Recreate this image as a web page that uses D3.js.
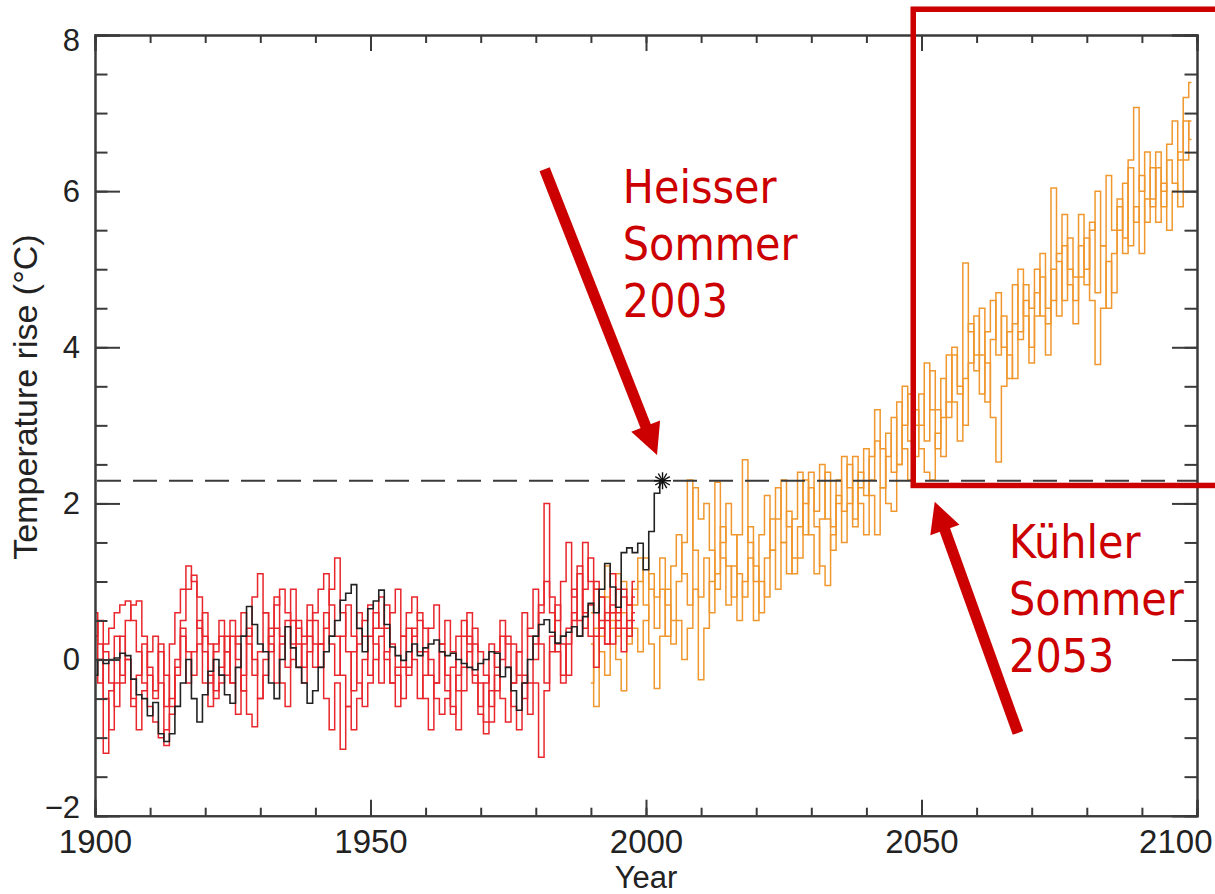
<!DOCTYPE html>
<html>
<head>
<meta charset="utf-8">
<script src="https://cdn.jsdelivr.net/npm/d3@7/dist/d3.min.js"></script>
<style>
  html, body { margin: 0; padding: 0; background: #fff; }
  svg { display: block; }
</style>
</head>
<body>
<svg id="chart" width="1215" height="894"></svg>
<script>
// ---------------- DATA ----------------
const xTickMajor = [1900, 1950, 2000, 2050, 2100];
const yTickMajor = [-2, 0, 2, 4, 6, 8];
const xLabel = "Year";
const yLabel = "Temperature rise (°C)";

// Observations (black), annual values from 1900
const obsStart = 1900;
const observed = [
  -0.2, 0.0, -0.05, 0.0, 0.02, 0.08, 0.05, -0.25, -0.45, -0.5,
  -0.72, -0.55, -0.95, -1.05, -0.95, -0.6, -0.3, 0.0, -0.5, -0.8,
  -0.45, -0.15, 0.0, -0.2, -0.45, -0.56, -0.1, 0.3, 0.68, 0.45,
  0.2, 0.1, -0.3, -0.5, 0.0, 0.42, 0.15, -0.1, -0.3, -0.56,
  -0.4, -0.1, 0.1, 0.3, 0.5, 0.76, 0.85, 0.96, 0.4, 0.1,
  0.65, 0.75, 0.89, 0.45, 0.16, 0.05, -0.01, 0.1, 0.2, 0.05,
  0.15, 0.2, 0.25, 0.1, 0.05, 0.08, 0.0, -0.05, -0.1, -0.13,
  -0.05, 0.0, 0.1, 0.08, -0.22, -0.1, -0.4, -0.65, -0.3, 0.0,
  0.3, 0.45, 0.51, 0.35, 0.21, 0.3, 0.35, 0.42, 0.3, 0.55,
  0.72, 0.6, 0.9, 1.23, 0.93, 0.67, 1.37, 1.43, 1.37, 1.49,
  1.15, 1.64, 2.13, 2.29
];

// Model runs, historical (red), annual from 1900
const histStart = 1900;
const hist1 = [
  0.6, 0.2, -1.2, -0.4, 0.3, -0.2, 0.5, 0.7, 0.75, 0.3,
  -0.2, -0.5, 0.1, -0.6, 0.2, 0.6, 0.9, 1.2, 1.0, 0.4,
  -0.3, -0.6, 0.1, 0.3, -0.2, 0.5, 0.2, -0.4, 0.3, 0.8,
  1.1, 0.6, 0.1, 0.4, -0.3, -0.6, 0.0, 0.5, 0.3, 0.7,
  0.2, -0.1, 0.4, 0.9, 1.3, 0.6, 0.1, -0.4, 0.2, 0.5,
  0.7, 0.2, -0.3, 0.1, 0.6, 0.9, 0.3, -0.2, 0.4, 0.1,
  -0.5, -0.9, -0.3, 0.2, 0.5, 0.1, -0.4, -0.1, 0.3, -0.2,
  -0.6, -0.3, 0.2, -0.1, -0.5, -0.8, -0.3, 0.1, 0.6, 0.3,
  0.0, 0.6, 2.0, 0.8, 0.2, -0.3, 0.4, 0.9, 0.5, 1.5,
  1.0, 0.3, 0.8, 0.5, 1.1, 0.6, 0.9, 0.7, 1.0
];
const hist2 = [
  0.3, 0.5, 0.1, -0.3, -0.6, -0.3, 0.0, -0.5, -0.9, -0.4,
  0.1, 0.3, -0.3, -1.1, -0.7, -0.2, 0.4, 0.1, -0.2, 0.2,
  0.6, 0.2, -0.4, -0.1, 0.3, -0.3, -0.7, -0.2, 0.4, 0.0,
  -0.5, -0.2, 0.3, 0.8, 0.3, -0.1, 0.5, 0.2, -0.3, 0.1,
  0.5, 0.2, -0.5, -0.9, -0.3, -1.15, -0.6, 0.1, 0.6, 0.3,
  -0.2, 0.4, 0.8, 0.4, -0.3, -0.6, -0.1, 0.4, 0.0, -0.5,
  -0.2, 0.4, 0.7, 0.2, -0.4, -0.7, -0.2, 0.3, 0.6, 0.2,
  -0.3, -0.8, -0.4, 0.1, 0.5, 0.2, -0.3, 0.1, -0.2, -0.7,
  -0.3, -1.25, -0.4, 0.3, 0.7, 0.2, -0.2, 0.5, 1.1, 0.6,
  0.3, -0.1, 0.4, 0.2, 0.7, 0.4, 0.1, 0.5, 0.8
];
const hist3 = [
  0.0, -0.3, 0.2, 0.4, 0.6, 0.7, 0.75, 0.5, 0.1, -0.3,
  -0.6, -0.8, -1.0, -0.9, -0.5, 0.0, 0.5, 0.9, 1.08, 0.8,
  0.3, -0.2, -0.5, -0.3, 0.1, 0.3, 0.0, -0.4, -0.7, -0.86,
  -0.5, 0.0, 0.4, 0.7, 0.9, 0.6, 0.2, -0.1, 0.2, 0.5,
  0.6, 0.9, 1.1, 0.7, 0.3, -0.2, -0.6, -0.9, -0.5, 0.0,
  0.3, 0.6, 0.4, 0.0, -0.3, -0.1, 0.3, 0.6, 0.8, 0.5,
  0.1, -0.2, -0.5, -0.7, -0.5, -0.1, 0.3, 0.5, 0.2, -0.3,
  -0.7, -0.95, -0.8, -0.4, 0.0, 0.3, 0.2, -0.2, -0.5, -0.3,
  0.2, 0.7, 1.0, 0.6, 0.1, -0.2, 0.2, 0.6, 0.3, 0.9,
  1.3, 0.9, 0.4, 0.6, 0.2, 0.5, 0.8, 0.4, 0.6
];
const hist4 = [
  0.5, 0.0, -0.5, -0.9, -0.3, 0.3, 0.0, -0.6, -0.2, 0.2,
  -0.1, -0.4, 0.2, -0.2, -0.6, -0.1, 0.3, -0.3, 0.1, 0.5,
  0.1, -0.3, 0.2, 0.5, 0.1, -0.3, 0.3, 0.6, 0.2, -0.2,
  0.1, 0.6, 0.2, -0.3, 0.2, 0.5, 0.9, 0.4, -0.1, 0.3,
  -0.1, 0.2, 0.6, 0.2, -0.2, 0.3, 0.7, 0.3, -0.3, -0.6,
  -0.3, 0.0, 0.3, 0.7, 0.2, -0.2, -0.5, -0.1, 0.3, 0.6,
  0.4, 0.0, -0.3, 0.1, -0.2, -0.6, -0.9, -0.4, 0.1, 0.4,
  0.1, -0.2, -0.6, -0.2, 0.3, -0.1, -0.6, -0.9, -0.3, 0.4,
  0.9, 0.2, -0.3, 0.1, 0.5, 1.0, 1.5, 0.8, 1.2, 0.4,
  0.7, 1.0, 0.5, 0.2, 0.6, 0.9, 0.4, 0.3, 0.5
];

// Model runs, scenario (orange), annual from 1990
const projStart = 1990;
const proj1 = [
  0.2, -0.6, 0.3, 0.8, 0.4, 1.1, 0.6, 0.2, 0.9, 1.3,
  0.7, 0.2, -0.37, 0.3, 0.9, 0.5, 1.0, 1.5, 2.3, 1.4,
  0.8, 1.3, 0.6, 1.1, 1.7, 1.2, 0.8, 1.6, 2.56, 1.5,
  1.0, 1.6, 2.1, 1.4, 0.9, 1.5, 1.9, 1.3, 1.7, 2.3,
  1.6, 1.1, 1.8, 2.4, 1.7, 2.1, 1.5, 2.0, 2.6, 2.0,
  1.6, 2.3, 2.8, 2.2, 2.6, 3.1, 2.5, 3.5, 2.8, 3.2,
  2.7, 2.4, 2.3, 2.9, 3.6, 3.1, 3.9, 3.4, 5.08, 4.2,
  3.7, 4.5, 3.8, 3.1, 2.53, 3.5, 4.2, 4.8, 4.1, 4.6,
  4.0, 4.7, 5.2, 4.5, 6.04, 5.1, 4.6, 5.4, 4.9, 5.7,
  5.0, 5.6, 4.7, 5.3, 6.2, 5.5, 5.9, 5.2, 6.4, 7.07,
  6.0, 6.5, 5.8, 6.3, 6.0, 6.6, 6.9, 6.4, 7.2, 7.39
];
const proj2 = [
  0.6, 0.9, 0.1, -0.2, 0.5, 0.3, 1.0, 0.7, 0.4, 0.1,
  0.5, 1.1, 0.8, 1.3, 0.7, 0.2, 0.5, 0.0, 0.4, 0.9,
  -0.26, 0.4, 1.0, 2.27, 1.3, 0.7, 1.2, 0.5, 1.0, 1.7,
  1.2, 0.6, 1.3, 1.8, 2.2, 1.5, 1.1, 1.8, 2.4, 1.6,
  2.2, 1.7, 1.2, 0.95, 1.6, 2.3, 1.9, 2.5, 1.8, 2.2,
  2.7, 2.1, 1.6, 2.2, 2.9, 2.4, 3.3, 2.7, 2.3, 3.0,
  3.4, 2.8, 3.7, 3.2, 2.6, 3.3, 4.0, 3.5, 3.0, 3.8,
  4.4, 3.9, 3.3, 4.1, 4.7, 4.0, 3.6, 4.3, 5.0, 4.4,
  3.8, 4.4, 4.9, 4.3, 5.0, 4.4, 5.3, 4.8, 4.3, 4.9,
  5.4, 4.6, 3.78, 4.5, 5.1, 4.7, 5.5, 6.1, 5.3, 5.8,
  5.2, 5.9, 6.3, 5.6, 6.1, 5.5, 6.0, 6.5, 6.9, 6.66
];
const proj3 = [
  -0.3, 0.4, 0.8, 1.2, 0.6, 0.0, -0.4, 0.3, 0.7, 1.0,
  1.3, 0.9, 0.4, 0.9, 0.3, 1.2, 1.6, 1.1, 0.7, 2.2,
  1.8, 2.0, 1.4, 0.9, 1.5, 2.0, 1.6, 1.1, 0.8, 1.3,
  0.5, 1.0, 0.8, 1.4, 1.8, 2.3, 1.7, 1.1, 1.3, 2.0,
  2.4, 1.9, 2.5, 1.8, 1.4, 2.0, 2.6, 2.2, 1.7, 2.4,
  2.1, 2.6, 3.2, 2.7, 2.0, 1.9, 2.5, 3.0, 3.4, 2.6,
  3.0, 3.8, 3.2, 2.7, 3.1, 3.9, 3.3, 2.8, 3.6, 4.3,
  3.9, 3.4, 4.2, 4.6, 3.9, 4.4, 3.9, 3.6, 4.2, 4.8,
  4.5, 5.0, 4.4, 3.9, 4.6, 5.2, 5.7, 5.0, 4.6, 5.3,
  4.8, 5.5, 6.0, 5.3, 4.5, 5.2, 5.8, 5.4, 6.3, 5.6,
  6.2, 5.6, 5.9, 6.5, 5.8, 6.4, 6.1, 5.8, 6.4, 6.9
];

// 2003 reference level (dashed) and marker
const hotYear = 2003;
const hotLevel = 2.29;

// Annotations
const hotText = ["Heisser", "Sommer", "2003"];
const coolText = ["Kühler", "Sommer", "2053"];

// ---------------- CHART ----------------
const svg = d3.select("#chart");
const W = 1215, H = 894;
svg.append("rect").attr("width", W).attr("height", H).attr("fill", "#fff");

const x = d3.scaleLinear().domain([1900, 2100]).range([95, 1197]);
const y = d3.scaleLinear().domain([-2, 8]).range([815.7, 35]);

const axisColor = "#3a3a3a";
const tickFont = "'Liberation Sans', Arial, sans-serif";

const toPts = (arr, start) => arr.map((v, i) => [start + i, v]);
const line = d3.line().x(d => x(d[0])).y(d => y(d[1])).curve(d3.curveStep);

const plot = svg.append("g");

// orange projections
[proj1, proj2, proj3].forEach(s => {
  plot.append("path").attr("d", line(toPts(s, projStart)))
    .attr("fill", "none").attr("stroke", "#f0982f").attr("stroke-width", 1.5);
});
// red historical runs
[hist1, hist2, hist3, hist4].forEach(s => {
  plot.append("path").attr("d", line(toPts(s, histStart)))
    .attr("fill", "none").attr("stroke", "#e8262c").attr("stroke-width", 1.5);
});
// black observations
plot.append("path").attr("d", line(toPts(observed, obsStart)))
  .attr("fill", "none").attr("stroke", "#222").attr("stroke-width", 1.6);

// dashed reference line
svg.append("line")
  .attr("x1", x(1900) + 2).attr("x2", x(2100))
  .attr("y1", y(hotLevel)).attr("y2", y(hotLevel))
  .attr("stroke", "#3a3a3a").attr("stroke-width", 2)
  .attr("stroke-dasharray", "24 12");

// star marker (asterisk burst)
[0, 90].forEach(rot => {
  svg.append("path")
    .attr("d", d3.symbol(d3.symbolAsterisk, 200)())
    .attr("transform", `translate(${x(hotYear)},${y(hotLevel)}) rotate(${rot})`)
    .attr("fill", "none").attr("stroke", "#111").attr("stroke-width", 1.4);
});

// ---------------- AXES ----------------
const xMinor = d3.range(1900, 2101, 10);
const yMinor = d3.range(-2, 8.01, 0.5);

function styleAxis(g) {
  g.selectAll(".domain").attr("stroke", axisColor).attr("stroke-width", 2);
  g.selectAll(".tick line").attr("stroke", axisColor).attr("stroke-width", 2);
}

const bottomY = y(-2), topY = y(8), leftX = x(1900), rightX = x(2100);

// bottom
svg.append("g").attr("transform", `translate(0,${bottomY})`)
  .call(d3.axisBottom(x).tickValues(xMinor).tickSize(-8).tickFormat(""))
  .call(styleAxis);
const gb = svg.append("g").attr("transform", `translate(0,${bottomY})`)
  .call(d3.axisBottom(x).tickValues(xTickMajor).tickSize(-16).tickPadding(14).tickFormat(d3.format("d")))
  .call(styleAxis);
gb.selectAll("text").attr("font-family", tickFont).attr("font-size", 33).attr("fill", "#222");
gb.selectAll(".tick").filter(d => d === 2100).select("text")
  .attr("text-anchor", "end").attr("x", 15);
// top
svg.append("g").attr("transform", `translate(0,${topY})`)
  .call(d3.axisTop(x).tickValues(xMinor).tickSize(-8).tickFormat(""))
  .call(styleAxis);
svg.append("g").attr("transform", `translate(0,${topY})`)
  .call(d3.axisTop(x).tickValues(xTickMajor).tickSize(-16).tickFormat(""))
  .call(styleAxis);
// left
svg.append("g").attr("transform", `translate(${leftX},0)`)
  .call(d3.axisLeft(y).tickValues(yMinor).tickSize(-12.5).tickFormat(""))
  .call(styleAxis);
const gl = svg.append("g").attr("transform", `translate(${leftX},0)`)
  .call(d3.axisLeft(y).tickValues(yTickMajor).tickSize(-25).tickPadding(15).tickFormat(d3.format("d")))
  .call(styleAxis);
gl.selectAll("text").attr("font-family", tickFont).attr("font-size", 31).attr("fill", "#222");
gl.selectAll(".tick").filter(d => d === 8).select("text").attr("y", 6);
gl.selectAll(".tick").filter(d => d === -2).select("text").attr("y", -8);
// right
svg.append("g").attr("transform", `translate(${rightX},0)`)
  .call(d3.axisRight(y).tickValues(yMinor).tickSize(-12.5).tickFormat(""))
  .call(styleAxis);
svg.append("g").attr("transform", `translate(${rightX},0)`)
  .call(d3.axisRight(y).tickValues(yTickMajor).tickSize(-25).tickFormat(""))
  .call(styleAxis);

// axis titles
svg.append("text").text(xLabel)
  .attr("x", x(2000)).attr("y", 888).attr("text-anchor", "middle")
  .attr("font-family", tickFont).attr("font-size", 31).attr("fill", "#222");
svg.append("text").text(yLabel)
  .attr("transform", `translate(37,397) rotate(-90)`)
  .attr("text-anchor", "middle")
  .attr("font-family", tickFont).attr("font-size", 34).attr("fill", "#222");

// ---------------- ANNOTATIONS ----------------
const red = "#cc0000";
const annFont = "'DejaVu Sans Condensed', 'DejaVu Sans', sans-serif";

function arrow(x0, y0, x1, y1, headLen, headW, lw) {
  const dx = x1 - x0, dy = y1 - y0, L = Math.hypot(dx, dy);
  const ux = dx / L, uy = dy / L, px = -uy, py = ux;
  const bx = x1 - ux * headLen, by = y1 - uy * headLen;
  svg.append("line").attr("x1", x0).attr("y1", y0).attr("x2", bx + ux * 2).attr("y2", by + uy * 2)
    .attr("stroke", red).attr("stroke-width", lw);
  svg.append("polygon")
    .attr("points", [[x1, y1], [bx + px * headW / 2, by + py * headW / 2], [bx - px * headW / 2, by - py * headW / 2]].map(p => p.join(",")).join(" "))
    .attr("fill", red);
}
// hot summer arrow
arrow(x(1981.6), y(6.28), x(2002.0), y(2.62), 31, 31, 11);
// cool summer arrow
arrow(x(2067.5), y(-0.94), x(2052.4), y(2.02), 30, 31, 11);

// rectangle (future window)
svg.append("rect")
  .attr("x", x(2048.5)).attr("y", y(8.33))
  .attr("width", x(2105) - x(2048.5)).attr("height", y(2.23) - y(8.33))
  .attr("fill", "none").attr("stroke", red).attr("stroke-width", 5.5);

function annText(lines, xv, yv) {
  const t = svg.append("text").attr("font-family", annFont).attr("font-size", 46).attr("fill", red);
  lines.forEach((s, i) => {
    t.append("tspan").attr("x", x(xv)).attr("y", y(yv) + i * 57).text(s);
  });
}
annText(hotText, 1995.8, 5.85);
annText(coolText, 2065.9, 1.3);
</script>
</body>
</html>
